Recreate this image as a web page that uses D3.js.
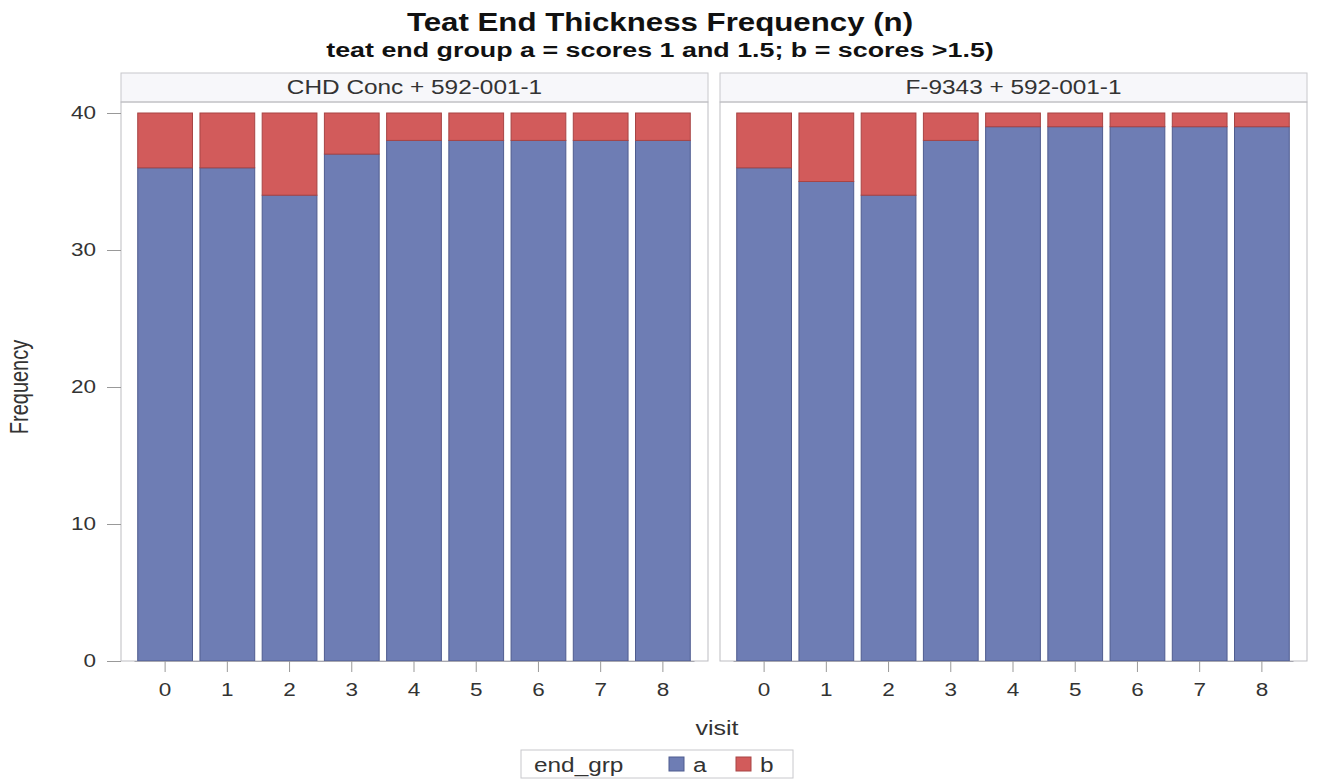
<!DOCTYPE html>
<html><head><meta charset="utf-8">
<script src="https://cdn.jsdelivr.net/npm/d3@7"></script>
<style>body{margin:0;background:#fff;} text{font-family:"Liberation Sans",Arial,sans-serif;}</style>
</head><body>
<svg id="c" width="1330" height="780"></svg>
<script>
const visits = ["0","1","2","3","4","5","6","7","8"];
const panels = ["CHD Conc + 592-001-1", "F-9343 + 592-001-1"];
const groups = ["a","b"];
const aLeft  = [36,36,34,37,38,38,38,38,38];
const bLeft  = [4,4,6,3,2,2,2,2,2];
const aRight = [36,35,34,38,39,39,39,39,39];
const bRight = [4,5,6,2,1,1,1,1,1];
const yTicks = [0,10,20,30,40];
const colors = {a:"#6E7DB4", b:"#D25B5B"};
const strokes = {a:"#4F5C8F", b:"#A84444"};

const SX = 1.25; // horizontal stretch seen in the reference text
const svg = d3.select("#c");
const plotTop = 102, plotBottom = 661;
const y = d3.scaleLinear().domain([0,40]).range([plotBottom, 113]);
const panelX = [121, 720], panelW = 587;
const data = [[aLeft,bLeft],[aRight,bRight]];

function txt(parent, x, yy, s, size, opts={}){
  return parent.append("text")
    .attr("transform",`translate(${x},${yy}) scale(${opts.sx||SX},1)`)
    .attr("text-anchor",opts.anchor||"middle")
    .attr("font-size",size)
    .attr("font-weight",opts.bold?"bold":null)
    .attr("fill",opts.fill||"#333")
    .text(s);
}

txt(svg, 660, 31, "Teat End Thickness Frequency (n)", 25, {bold:true, fill:"#111"});
txt(svg, 660, 57, "teat end group a = scores 1 and 1.5; b = scores >1.5)", 20.5, {bold:true, fill:"#111", sx:1.31});

panels.forEach((p,i)=>{
  const x0 = panelX[i];
  const g = svg.append("g");
  g.append("rect").attr("x",x0).attr("y",73).attr("width",panelW).attr("height",29)
    .attr("fill","#F7F7FA").attr("stroke","#C8C8CC");
  txt(g, x0+panelW/2, 94, p, 19.5);
  g.append("rect").attr("x",x0).attr("y",plotTop).attr("width",panelW).attr("height",plotBottom-plotTop)
    .attr("fill","none").attr("stroke","#BDBDC2");
  const x = d3.scaleBand().domain(visits).range([x0+13, x0+panelW-14]).paddingInner(0.12).paddingOuter(0.06);
  const [av,bv] = data[i];
  visits.forEach((v,k)=>{
    g.append("rect").attr("x",x(v)).attr("width",x.bandwidth())
      .attr("y",y(av[k])).attr("height",y(0)-y(av[k]))
      .attr("fill",colors.a).attr("stroke",strokes.a).attr("stroke-width",1);
    g.append("rect").attr("x",x(v)).attr("width",x.bandwidth())
      .attr("y",y(av[k]+bv[k])).attr("height",y(av[k])-y(av[k]+bv[k]))
      .attr("fill",colors.b).attr("stroke",strokes.b).attr("stroke-width",1);
  });
  const xa = g.append("g").attr("transform",`translate(0,${plotBottom})`)
    .call(d3.axisBottom(x).tickSize(11).tickPadding(11).tickSizeOuter(0));
  xa.select(".domain").attr("stroke","#A8A8B0");
  xa.selectAll(".tick line").attr("stroke","#999");
  xa.selectAll("text").attr("font-size",18).attr("fill","#333")
    .attr("font-family","Liberation Sans, Arial, sans-serif")
    .attr("transform",`scale(${SX},1)`);
  if(i===0){
    const ya = g.append("g").attr("transform",`translate(${x0},0)`)
      .call(d3.axisLeft(y).tickValues(yTicks).tickSize(14).tickPadding(10).tickSizeOuter(0));
    ya.select(".domain").remove();
    ya.selectAll(".tick line").attr("stroke","#999");
    ya.selectAll("text").attr("font-size",18).attr("fill","#333")
      .attr("font-family","Liberation Sans, Arial, sans-serif")
      .attr("x",-25/SX).attr("transform",`scale(${SX},1)`);
  }
});

svg.append("text").attr("transform",`translate(28,387) scale(${SX},1) rotate(-90)`).attr("text-anchor","middle")
  .attr("font-size",20).attr("fill","#333").text("Frequency");
txt(svg, 717, 735, "visit", 20);

const lg = svg.append("g");
lg.append("rect").attr("x",521).attr("y",750).attr("width",272).attr("height",28)
  .attr("fill","#fff").attr("stroke","#C8C8CC");
txt(lg, 534, 772, "end_grp", 19.5, {anchor:"start"});
groups.forEach((gname,k)=>{
  const lx = 669 + k*67;
  lg.append("rect").attr("x",lx).attr("y",757).attr("width",15).attr("height",14)
    .attr("fill",colors[gname]).attr("stroke",strokes[gname]);
  txt(lg, lx+24, 772, gname, 19.5, {anchor:"start"});
});
</script>
</body></html>
